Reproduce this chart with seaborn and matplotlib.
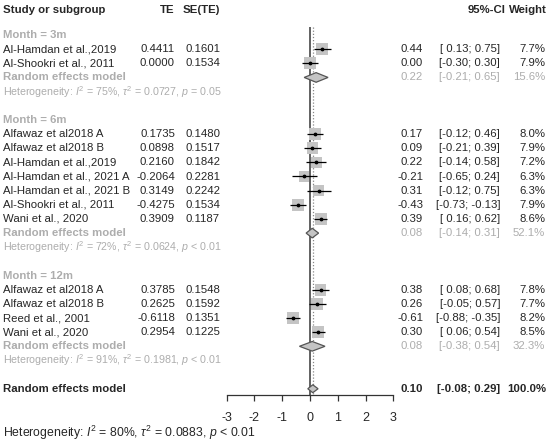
import matplotlib
matplotlib.use("Agg")
import matplotlib.pyplot as plt
import matplotlib.transforms as mtransforms
import seaborn as sns
import pandas as pd

# --- data ---
groups = ["Month = 3m", "Month = 6m", "Month = 12m"]

studies_3m = ["Al-Hamdan et al.,2019", "Al-Shookri et al., 2011"]
te_3m = [0.4411, 0.0000]
se_3m = [0.1601, 0.1534]
est_3m = [0.44, 0.00]
lo_3m = [0.13, -0.30]
hi_3m = [0.75, 0.30]
w_3m = [7.7, 7.9]

studies_6m = ["Alfawaz et al2018 A", "Alfawaz et al2018 B", "Al-Hamdan et al.,2019",
              "Al-Hamdan et al., 2021 A", "Al-Hamdan et al., 2021 B",
              "Al-Shookri et al., 2011", "Wani et al., 2020"]
te_6m = [0.1735, 0.0898, 0.2160, -0.2064, 0.3149, -0.4275, 0.3909]
se_6m = [0.1480, 0.1517, 0.1842, 0.2281, 0.2242, 0.1534, 0.1187]
est_6m = [0.17, 0.09, 0.22, -0.21, 0.31, -0.43, 0.39]
lo_6m = [-0.12, -0.21, -0.14, -0.65, -0.12, -0.73, 0.16]
hi_6m = [0.46, 0.39, 0.58, 0.24, 0.75, -0.13, 0.62]
w_6m = [8.0, 7.9, 7.2, 6.3, 6.3, 7.9, 8.6]

studies_12m = ["Alfawaz et al2018 A", "Alfawaz et al2018 B", "Reed et al., 2001", "Wani et al., 2020"]
te_12m = [0.3785, 0.2625, -0.6118, 0.2954]
se_12m = [0.1548, 0.1592, 0.1351, 0.1225]
est_12m = [0.38, 0.26, -0.61, 0.30]
lo_12m = [0.08, -0.05, -0.88, 0.06]
hi_12m = [0.68, 0.57, -0.35, 0.54]
w_12m = [7.8, 7.7, 8.2, 8.5]

# subgroup random effects: estimate, lower, upper, weight
sub_est = [0.22, 0.08, 0.08]
sub_lo = [-0.21, -0.14, -0.38]
sub_hi = [0.65, 0.31, 0.54]
sub_w = [15.6, 52.1, 32.3]
sub_i2 = [75, 72, 91]
sub_tau2 = ["0.0727", "0.0624", "0.1981"]
sub_p = ["= 0.05", "< 0.01", "< 0.01"]

overall_est, overall_lo, overall_hi, overall_w = 0.10, -0.08, 0.29, 100.0
overall_i2, overall_tau2, overall_p = 80, "0.0883", "< 0.01"

x_ticks = [-3, -2, -1, 0, 1, 2, 3]

# --- style ---
sns.set_style("white")
plt.rcParams["font.family"] = ["Liberation Sans", "DejaVu Sans"]
plt.rcParams["mathtext.fontset"] = "custom"
plt.rcParams["mathtext.rm"] = "Liberation Sans"
plt.rcParams["mathtext.it"] = "Liberation Sans:italic"
plt.rcParams["axes.unicode_minus"] = False

W, H = 550, 444
FS = 8.2
GREY = "#adadad"
BOX = "#c4c4c4"

fig = plt.figure(figsize=(W / 100, H / 100), dpi=100)
row0_px, row_h = 35.0, 14.15
axis_px = 395.0
ax_left, ax_right = 226.7, 393.3
ax = fig.add_axes([ax_left / W, (H - axis_px) / H, (ax_right - ax_left) / W, axis_px / H])
ax.set_xlim(-3, 3)
ax.set_ylim((axis_px - row0_px) / row_h, -row0_px / row_h)

# build rows
rows = []
study_df = []
r = 0
group_data = [
    (studies_3m, te_3m, se_3m, est_3m, lo_3m, hi_3m, w_3m),
    (studies_6m, te_6m, se_6m, est_6m, lo_6m, hi_6m, w_6m),
    (studies_12m, te_12m, se_12m, est_12m, lo_12m, hi_12m, w_12m),
]
sub_rows = []
for g, (names, te, se, est, lo, hi, w) in enumerate(group_data):
    rows.append(("group", groups[g], r))
    r += 1
    for i in range(len(names)):
        study_df.append(dict(name=names[i], te=te[i], se=se[i], est=est[i],
                             lo=lo[i], hi=hi[i], w=w[i], row=r))
        r += 1
    sub_rows.append(r)
    r += 1
    rows.append(("het", g, r))
    r += 2
overall_row = r

df = pd.DataFrame(study_df)

# x in figure pixels, y in row units
xt = mtransforms.blended_transform_factory(fig.transFigure, ax.transData)


def put(x, row, s, ha="left", **kw):
    kw.setdefault("fontsize", FS)
    ax.text(x / W, row, s, ha=ha, va="center", transform=xt, **kw)


# headers
hrow = (10 - row0_px) / row_h
put(3, hrow, "Study or subgroup", fontweight="bold")
put(175, hrow, "TE", ha="right", fontweight="bold")
put(220, hrow, "SE(TE)", ha="right", fontweight="bold")
put(506, hrow, "95%-CI", ha="right", fontweight="bold")
put(547, hrow, "Weight", ha="right", fontweight="bold")


def ci_text(lo, hi):
    a = f"{lo:.2f}" if lo < 0 else f" {lo:.2f}"
    return f"[{a}; {hi:.2f}]"


for _, s in df.iterrows():
    put(3, s.row, s["name"])
    put(175, s.row, f"{s.te:.4f}", ha="right")
    put(220, s.row, f"{s.se:.4f}", ha="right")
    put(423, s.row, f"{s.est:.2f}", ha="right")
    put(500, s.row, ci_text(s.lo, s.hi), ha="right")
    put(545, s.row, f"{s.w:.1f}%", ha="right")

for kind, payload, row in rows:
    if kind == "group":
        put(3, row, payload, color=GREY, fontweight="bold")
    else:
        g = payload
        put(3, row, f"Heterogeneity: $I^2$ = {sub_i2[g]}%, $\\tau^2$ = {sub_tau2[g]}, $p$ {sub_p[g]}",
            color=GREY, fontsize=7.7)

for g, row in enumerate(sub_rows):
    put(3, row, "Random effects model", color=GREY, fontweight="bold")
    put(423, row, f"{sub_est[g]:.2f}", ha="right", color=GREY)
    put(500, row, ci_text(sub_lo[g], sub_hi[g]), ha="right", color=GREY)
    put(545, row, f"{sub_w[g]:.1f}%", ha="right", color=GREY)

put(3, overall_row, "Random effects model", fontweight="bold")
put(423, overall_row, f"{overall_est:.2f}", ha="right", fontweight="bold")
put(500, overall_row, ci_text(overall_lo, overall_hi), ha="right", fontweight="bold")
put(546, overall_row, f"{overall_w:.1f}%", ha="right", fontweight="bold")
het_row = (433 - row0_px) / row_h
put(3, het_row, f"Heterogeneity: $I^2$ = {overall_i2}%, $\\tau^2$ = {overall_tau2}, $p$ {overall_p}",
    fontsize=8.8)

# reference lines: no effect (solid) and overall estimate (dotted)
top_row = -0.55
bottom_row = ax.get_ylim()[0]
ax.vlines(0, top_row, bottom_row, color="#555555", lw=1.3, zorder=1)
ax.vlines(overall_est, top_row, bottom_row, color="#888888", lw=0.9, ls=(0, (1, 1.5)), zorder=1)

# squares, area proportional to weight
size_map = {w: 9.0 * w for w in df["w"].unique()}
sns.scatterplot(data=df, x="est", y="row", size="w", sizes=size_map, marker="s",
                color=BOX, edgecolor="none", legend=False, ax=ax, zorder=2)
ax.hlines(df["row"], df["lo"], df["hi"], color="black", lw=0.9, zorder=3)
ax.scatter(df["est"], df["row"], s=3, color="black", zorder=4)


def diamond(est, lo, hi, row, h=0.34):
    ax.fill([lo, est, hi, est], [row, row - h, row, row + h],
            facecolor=BOX, edgecolor="#555555", lw=0.9, zorder=3)


for g, row in enumerate(sub_rows):
    diamond(sub_est[g], sub_lo[g], sub_hi[g], row)
diamond(overall_est, overall_lo, overall_hi, overall_row, h=0.28)

for side in ["top", "right", "left"]:
    ax.spines[side].set_visible(False)
ax.spines["bottom"].set_color("#333333")
ax.spines["bottom"].set_linewidth(0.9)
ax.set_xticks(x_ticks)
ax.set_xticklabels([str(t) for t in x_ticks])
ax.tick_params(axis="x", direction="out", length=4.5, width=0.9, color="#333333",
               labelsize=9, pad=8, bottom=True)
ax.set_yticks([])
ax.set_xlabel("")
ax.set_ylabel("")

fig.savefig("out.png", dpi=100)
